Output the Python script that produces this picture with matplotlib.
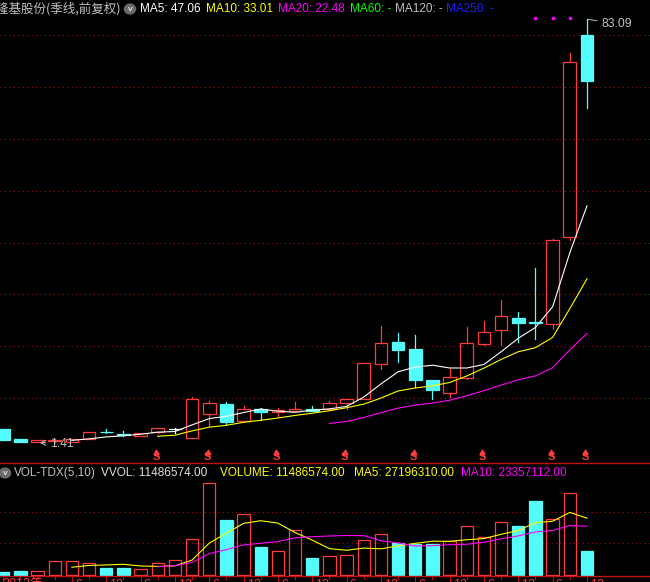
import numpy as np
import matplotlib
matplotlib.use('Agg')
import matplotlib.pyplot as plt
from matplotlib.patches import Rectangle, Circle
from matplotlib.lines import Line2D

#%% data (季线, 前复权)
opens = [4.02, 2.07, 1.45, 1.70, 1.56, 2.00, 3.45, 3.10, 2.70, 3.50,
         4.00, 2.20, 6.97, 8.85, 5.60, 7.90, 7.25, 7.55, 7.90, 7.90,
         9.10, 9.86, 16.60, 20.75, 19.45, 13.40, 11.00, 13.90, 20.50, 23.20,
         25.45, 24.65, 24.20, 41.00, 80.10]
closes = [1.90, 1.50, 1.80, 1.80, 2.08, 3.40, 3.35, 2.90, 3.25, 4.15,
          4.00, 9.75, 8.98, 5.45, 7.80, 7.35, 7.70, 7.90, 7.55, 9.00,
          9.75, 16.70, 20.55, 19.30, 13.50, 11.60, 14.00, 20.55, 22.70, 25.80,
          24.55, 24.55, 40.45, 74.80, 71.10]
highs = [4.02, 2.10, 1.80, 2.10, 2.10, 3.45, 3.95, 3.60, 3.30, 4.15,
         4.30, 10.25, 9.40, 9.20, 8.40, 8.07, 8.07, 9.20, 8.40, 9.35,
         9.80, 16.70, 23.90, 22.50, 22.15, 13.40, 15.60, 23.70, 24.90, 28.90,
         26.60, 35.10, 40.70, 76.50, 83.09]
lows = [1.90, 1.50, 1.41, 1.50, 1.50, 2.00, 3.20, 2.66, 2.70, 3.20,
        3.30, 2.20, 4.65, 4.70, 5.60, 5.75, 6.60, 7.50, 7.50, 7.70,
        7.80, 9.86, 15.65, 17.00, 12.20, 9.75, 10.25, 13.67, 20.20, 20.20,
        20.90, 21.45, 23.40, 40.40, 65.90]
# 成交量 (百万股)
volumes = [1.4, 2.0, 1.8, 6.7, 6.7, 5.6, 3.3, 3.3, 2.7, 5.6,
           7.0, 17.1, 43.9, 26.3, 29.2, 13.4, 11.3, 21.4, 8.1, 8.9,
           9.4, 16.6, 19.6, 15.2, 14.9, 14.6, 16.3, 23.3, 18.0, 25.2,
           23.5, 35.2, 26.8, 39.0, 11.49]

s_marks = [9, 12, 16, 20, 24, 28, 32, 34]
top_dots = [31, 32, 33]
x_labels = {0: '2012年', 4: '6', 6: '12', 8: '6', 10: '12', 12: '6', 14: '12',
            16: '6', 18: '12', 20: '6', 22: '12', 24: '6', 26: '12', 28: '6',
            30: '12', 32: '6', 34: '12'}

#%% style
W, H = 650, 582
RED = '#ff3c3c'
CYAN = '#54fcfc'
GRID = '#a01010'
SEP = '#c01010'
GRAY = '#c0c0c0'
FONT = ['Liberation Sans', 'DejaVu Sans']
CJK = ['Noto Sans CJK SC', 'DejaVu Sans']
HDR_SIZE = 8.5

X0, DX = 3.2, 17.17          # 像素: 第一根K线中心, 间距
PY0, PPX = 449.8, 5.181      # 价格 0 的像素位置, 每单位像素
VY0, VPX = 575.0, 2.09       # 成交量 0 的像素位置, 每百万股像素

n = len(closes)
idx = np.arange(n)
closes_a = np.array(closes)
vol_a = np.array(volumes)


def ma(arr, k):
    out = np.full(len(arr), np.nan)
    out[k - 1:] = np.convolve(arr, np.ones(k) / k, mode='valid')
    return out


def fx(x):
    return x / W


def fy(y):
    return 1 - y / H


fig = plt.figure(figsize=(6.5, 5.82), dpi=100, facecolor='black')

ax = fig.add_axes([0, fy(463), 1, 463 / H])
axv = fig.add_axes([0, fy(576), 1, (576 - 463) / H])
for a in (ax, axv):
    a.axis('off')
    a.set_xlim((0 - X0) / DX, (W - X0) / DX)
ax.set_ylim((PY0 - 463) / PPX, PY0 / PPX)
axv.set_ylim((VY0 - 576) / VPX, (VY0 - 463) / VPX)

#%% price panel
for lv in range(10, 90, 10):
    ax.axhline(lv, color=GRID, lw=0.8, ls=(0, (1, 3)), zorder=0)

for i in range(n):
    o, c, h, l = opens[i], closes[i], highs[i], lows[i]
    if c > o:
        col = RED
    elif c < o:
        col = CYAN
    else:
        col = 'white'
    top, bot = max(o, c), min(o, c)
    ax.plot([i, i], [top, h], color=col, lw=0.9, zorder=2)
    ax.plot([i, i], [l, bot], color=col, lw=0.9, zorder=2)
    if c == o:
        ax.plot([i - 0.37, i + 0.37], [o, o], color=col, lw=0.9, zorder=2)
    else:
        ax.add_patch(Rectangle((i - 0.37, bot), 0.74, top - bot,
                               facecolor=CYAN if c < o else 'none',
                               edgecolor=col, lw=0.9, zorder=2))

ax.plot(idx, ma(closes_a, 5), color='white', lw=0.8, zorder=3)
ax.plot(idx, ma(closes_a, 10), color='#ffff00', lw=0.8, zorder=3)
ax.plot(idx, ma(closes_a, 20), color='#ff00ff', lw=0.8, zorder=3)

# S 标记
for i in s_marks:
    ax.plot(i - 0.1, (PY0 - 451.8) / PPX, marker='^', ms=3.5, color=RED,
            mec=RED, clip_on=False, zorder=4)
    ax.text(i - 0.1, (PY0 - 457.5) / PPX, 'S', color=RED, fontsize=8,
            fontweight='bold', ha='center', va='center', family=FONT,
            clip_on=False)

for i in top_dots:
    ax.plot(i, (PY0 - 17.7) / PPX, marker='s', ms=1.6, color='#ff00ff',
            mec='#ff00ff', lw=0)

# 最高 / 最低 标注
hi_i = int(np.argmax(highs))
lo_i = int(np.argmin(lows))
ax.annotate('%.2f' % highs[hi_i], xy=(hi_i + 0.05, highs[hi_i]),
            xytext=((601 - X0) / DX, (PY0 - 24) / PPX),
            color=GRAY, fontsize=8.7, family=FONT, va='center', ha='left',
            arrowprops=dict(arrowstyle='-', color=GRAY, lw=0.7,
                            shrinkA=1, shrinkB=0))
ax.annotate('%.2f' % lows[lo_i], xy=(lo_i + 0.05, lows[lo_i]),
            xytext=((50 - X0) / DX, (PY0 - 444) / PPX),
            color=GRAY, fontsize=8.7, family=FONT, va='center', ha='left',
            arrowprops=dict(arrowstyle='->', color=GRAY, lw=0.7,
                            shrinkA=1, shrinkB=1))

#%% volume panel
for lv in (15.45, 30.0):
    axv.axhline(lv, color=GRID, lw=0.8, ls=(0, (1, 3)), zorder=0)

for i in range(n):
    up = closes[i] >= opens[i]
    col = RED if up else CYAN
    axv.add_patch(Rectangle((i - 0.36, 0), 0.72, volumes[i],
                            facecolor='none' if up else CYAN,
                            edgecolor=col, lw=0.9, zorder=2))

axv.plot(idx, ma(vol_a, 5), color='#ffff00', lw=0.8, zorder=3)
axv.plot(idx, ma(vol_a, 10), color='#ff00ff', lw=0.8, zorder=3)

#%% separators and bottom axis
fig.add_artist(Line2D([0, 1], [fy(463), fy(463)], color=SEP, lw=1.0))
fig.add_artist(Line2D([0, 1], [fy(576), fy(576)], color=SEP, lw=1.0))
for i in range(n):
    xp = X0 + DX * i
    if i in x_labels:
        fig.add_artist(Line2D([fx(xp), fx(xp)], [fy(576), fy(582)],
                              color=SEP, lw=0.8))
        fig.text(fx(xp + 3 if i else 2), fy(578.5), x_labels[i], color=RED,
                 fontsize=9, va='top', ha='left', family=FONT + CJK)
    else:
        fig.add_artist(Line2D([fx(xp), fx(xp)], [fy(576), fy(578.5)],
                              color=SEP, lw=0.8))

#%% header texts
def icon(xc, yc):
    fig.add_artist(Circle((fx(xc), fy(yc)), radius=5.5 / W,
                          transform=fig.transFigure, color='#6a6a6a'))
    fig.text(fx(xc), fy(yc + 0.5), 'v', color='#e0e0e0', fontsize=6,
             ha='center', va='center', family=FONT, fontweight='bold')


fig.text(fx(-4), fy(9), '隆基股份(季线,前复权)', color=GRAY, fontsize=9,
         va='center', ha='left', family=CJK)
icon(130, 9)
top_items = [(140, 'MA5: 47.06', 'white'),
             (206, 'MA10: 33.01', '#ffff00'),
             (278, 'MA20: 22.48', '#ff00ff'),
             (350, 'MA60: -', '#00ff00'),
             (395, 'MA120: -', GRAY),
             (446, 'MA250: -', '#2020ff')]
for xp, t, c in top_items:
    fig.text(fx(xp), fy(9), t, color=c, fontsize=HDR_SIZE, va='center',
             ha='left', family=FONT)

icon(5, 473)
vol_items = [(14, 'VOL-TDX(5,10)', GRAY),
             (101, 'VVOL: 11486574.00', '#e0e0e0'),
             (220, 'VOLUME: 11486574.00', '#ffff00'),
             (354, 'MA5: 27196310.00', '#ffff00'),
             (461, 'MA10: 23357112.00', '#ff00ff')]
for xp, t, c in vol_items:
    fig.text(fx(xp), fy(473), t, color=c, fontsize=HDR_SIZE, va='center',
             ha='left', family=FONT)

fig.savefig('out.png', dpi=100, facecolor='black')
